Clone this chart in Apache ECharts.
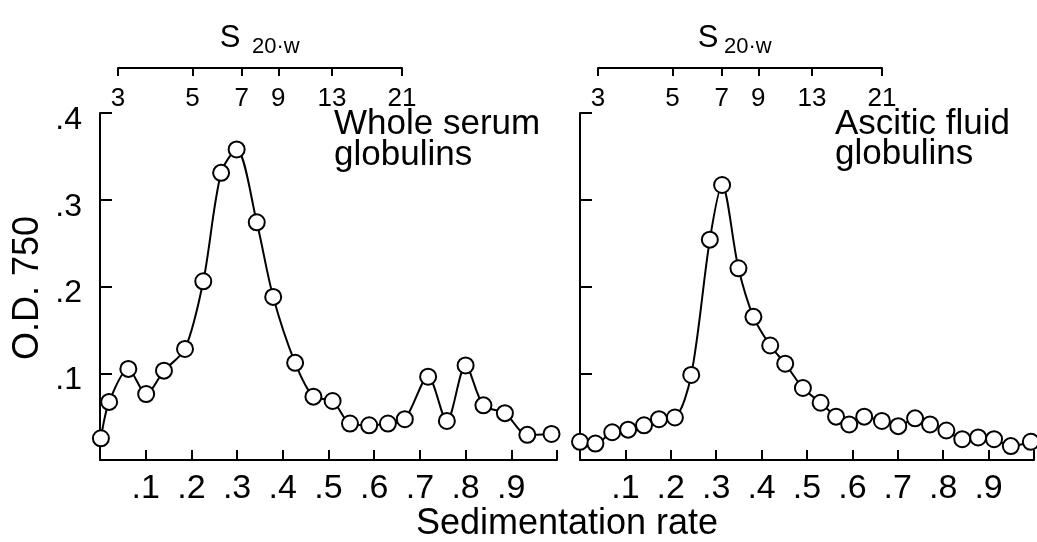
<!DOCTYPE html>
<html><head><meta charset="utf-8">
<script src="https://cdn.jsdelivr.net/npm/echarts@6/dist/echarts.min.js"></script>
<style>html,body{margin:0;padding:0;background:#fff}#c{width:1037px;height:542px}</style>
</head><body><div id="c"></div>
<script>
// Whole serum globulins
const SERUM_X = [0.002, 0.020, 0.062, 0.101, 0.140, 0.186, 0.226, 0.265, 0.299, 0.343, 0.379, 0.427, 0.467, 0.509, 0.547, 0.589, 0.630, 0.667, 0.718, 0.759, 0.800, 0.839, 0.886, 0.935, 0.988];
const SERUM_Y = [0.025, 0.067, 0.105, 0.076, 0.103, 0.128, 0.206, 0.331, 0.358, 0.274, 0.188, 0.112, 0.073, 0.068, 0.042, 0.040, 0.042, 0.047, 0.096, 0.045, 0.109, 0.063, 0.054, 0.029, 0.030];
// Ascitic fluid globulins
const ASCITIC_X = [0.000, 0.034, 0.071, 0.106, 0.141, 0.174, 0.209, 0.245, 0.286, 0.313, 0.349, 0.382, 0.419, 0.452, 0.491, 0.530, 0.564, 0.593, 0.626, 0.665, 0.701, 0.738, 0.771, 0.807, 0.842, 0.877, 0.912, 0.949, 0.993];
const ASCITIC_Y = [0.021, 0.019, 0.032, 0.035, 0.040, 0.047, 0.049, 0.098, 0.254, 0.317, 0.221, 0.165, 0.132, 0.111, 0.083, 0.066, 0.050, 0.041, 0.050, 0.045, 0.039, 0.048, 0.041, 0.034, 0.024, 0.026, 0.024, 0.016, 0.021];
// tick labels
const S_TICKS = [3, 5, 7, 9, 13, 21];
const RATE_LABELS = ['.1', '.2', '.3', '.4', '.5', '.6', '.7', '.8', '.9'];
const OD_LABELS = ['.1', '.2', '.3', '.4'];

const FONT = 'Liberation Sans';
const BLACK = '#000';

function pairs(xs, ys) { return xs.map((x, i) => [x, ys[i]]); }

function rateAxis(gi) {
  return {
    type: 'value', gridIndex: gi, min: 0, max: 1, interval: 0.1,
    axisLine: { show: true, lineStyle: { color: BLACK, width: 2 } },
    axisTick: { show: true, inside: true, length: 10, lineStyle: { color: BLACK, width: 2 } },
    splitLine: { show: false },
    axisLabel: {
      color: BLACK, fontFamily: FONT, fontSize: 34, margin: 12, lineHeight: 34,
      formatter: v => { const k = Math.round(v * 10); return (k >= 1 && k <= 9) ? RATE_LABELS[k - 1] : ''; }
    }
  };
}
function odAxis(gi, labels) {
  return {
    type: 'value', gridIndex: gi, min: 0, max: 0.4, interval: 0.1,
    axisLine: { show: true, lineStyle: { color: BLACK, width: 2 } },
    axisTick: { show: true, inside: true, length: 12, lineStyle: { color: BLACK, width: 2 } },
    splitLine: { show: false },
    axisLabel: {
      show: labels, color: BLACK, fontFamily: FONT, fontSize: 32, margin: 18,
      verticalAlign: 'top', lineHeight: 14,
      formatter: v => { const k = Math.round(v * 10); return (k >= 1 && k <= 4) ? OD_LABELS[k - 1] : ''; }
    }
  };
}
function sAxis(gi) {
  const vals = S_TICKS.map(Math.log10);
  return {
    type: 'value', gridIndex: gi, position: 'bottom',
    min: Math.log10(S_TICKS[0]), max: Math.log10(S_TICKS[S_TICKS.length - 1]),
    axisLine: { show: true, lineStyle: { color: BLACK, width: 2 } },
    axisTick: { show: true, length: 8, customValues: vals, lineStyle: { color: BLACK, width: 2 } },
    splitLine: { show: false },
    axisLabel: {
      color: BLACK, fontFamily: FONT, fontSize: 26, margin: 18, lineHeight: 26,
      customValues: vals, showMinLabel: true, showMaxLabel: true,
      formatter: v => String(Math.round(Math.pow(10, v)))
    }
  };
}
function hiddenY(gi) { return { type: 'value', gridIndex: gi, show: false, min: 0, max: 1 }; }

function lineSeries(xi, data) {
  return {
    type: 'line', xAxisIndex: xi, yAxisIndex: xi, data: data,
    smooth: 0.3, clip: false,
    symbol: 'circle', symbolSize: 16,
    lineStyle: { color: BLACK, width: 2 },
    itemStyle: { color: '#fff', borderColor: BLACK, borderWidth: 2 },
    emphasis: { disabled: true }, animation: false
  };
}

function txt(x, y, text, size, align, extra, lh) {
  const st = { text: text, fill: BLACK, font: size + 'px "' + FONT + '"', align: align || 'left', verticalAlign: 'middle' };
  if (lh) st.lineHeight = lh;
  return Object.assign({ type: 'text', x: x, y: y, silent: true, style: st }, extra || {});
}

const chart = echarts.init(document.getElementById('c'), null, { renderer: 'canvas' });
chart.setOption({
  backgroundColor: '#fff',
  animation: false,
  grid: [
    { left: 100, top: 113, width: 457, height: 347 },
    { left: 580, top: 113, width: 455, height: 347 },
    { left: 118, top: 60, width: 284, height: 8 },
    { left: 598, top: 60, width: 284, height: 8 }
  ],
  xAxis: [rateAxis(0), rateAxis(1), sAxis(2), sAxis(3)],
  yAxis: [odAxis(0, true), odAxis(1, false), hiddenY(2), hiddenY(3)],
  series: [
    lineSeries(0, pairs(SERUM_X, SERUM_Y)),
    lineSeries(1, pairs(ASCITIC_X, ASCITIC_Y))
  ],
  graphic: [
    txt(230, 38, 'S', 31, 'center'),
    txt(252, 47, '20·w', 22, 'left'),
    txt(708, 38, 'S', 31, 'center'),
    txt(724, 47, '20·w', 22, 'left'),
    txt(334, 140, 'Whole serum\nglobulins', 35, 'left', null, 31),
    txt(835, 139, 'Ascitic fluid\nglobulins', 35, 'left', null, 30),
    txt(567, 524, 'Sedimentation rate', 36, 'center'),
    txt(28, 288, 'O.D. 750', 36, 'center', { rotation: Math.PI / 2 })
  ]
});
</script>
</body></html>
